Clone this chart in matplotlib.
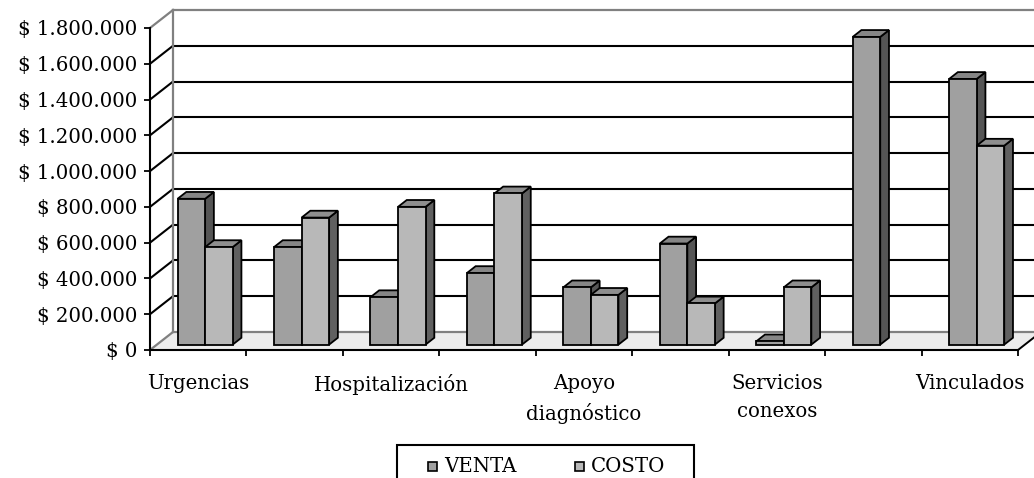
import matplotlib
matplotlib.use("Agg")
import matplotlib.pyplot as plt
from matplotlib.patches import Polygon, Rectangle

plt.rcParams["font.family"] = ["DejaVu Serif"]

# categories (only every other one gets a visible label)
categories = ["Urgencias", "", "Hospitalización", "", "Apoyo\ndiagnóstico",
              "", "Servicios\nconexos", "", "Vinculados"]
venta = [815000, 545000, 265000, 400000, 320000, 565000, 18000, 1720000, 1485000]
costo = [545000, 710000, 770000, 845000, 278000, 230000, 320000, 0, 1112000]
series = ["VENTA", "COSTO"]
yticks = list(range(0, 1800001, 200000))

# shading for front / top / side faces
faces = {
    "VENTA": ("#a0a0a0", "#868686", "#555555"),
    "COSTO": ("#b8b8b8", "#8e8e8e", "#606060"),
}
FS = 14.2

W, H = 1034, 478
fig = plt.figure(figsize=(W / 100, H / 100), dpi=100)
ax = fig.add_axes([150 / W, (H - 350) / H, 868 / W, 322 / H])
ncat = len(categories)
ymax = 1800000
ax.set_xlim(0, ncat)
ax.set_ylim(0, ymax)
ax.set_facecolor("none")

# oblique depth offset (23 px right, 18 px up) in data units
DX = 23 / 868 * ncat
DY = 18 / 322 * ymax
GRAY = "#808080"

# floor
ax.add_patch(Polygon([(0, 0), (ncat, 0), (ncat + DX, DY), (DX, DY)],
                     closed=True, fc="#ececec", ec="none", zorder=0.5,
                     clip_on=False))
ax.plot([DX, ncat + DX], [DY, DY], color=GRAY, lw=1.6, zorder=0.6,
        clip_on=False)
ax.plot([0, DX], [0, DY], color=GRAY, lw=1.6, zorder=0.6, clip_on=False)
ax.plot([ncat, ncat + DX], [0, DY], color="black", lw=1.4, zorder=0.6,
        clip_on=False)

# back wall + left wall gridlines
for v in yticks[1:-1]:
    ax.plot([DX, ncat + DX], [v + DY, v + DY], color="black", lw=1.5,
            zorder=0.6, clip_on=False)
    ax.plot([0, DX], [v, v + DY], color="black", lw=1.5, zorder=0.6,
            clip_on=False)
ax.plot([DX, ncat + DX], [ymax + DY, ymax + DY], color=GRAY, lw=1.6,
        zorder=0.6, clip_on=False)
ax.plot([0, DX], [ymax, ymax + DY], color=GRAY, lw=1.6, zorder=0.6,
        clip_on=False)
ax.plot([DX, DX], [DY, ymax + DY], color=GRAY, lw=1.6, zorder=0.6,
        clip_on=False)

# 3D bars: gap width 150%, depth 40% centred on the floor
bw = 1 / (len(series) + 1.5)
d0, d1 = 0.3, 0.68
z = 3
for i in range(ncat):
    for k, (name, vals) in enumerate(zip(series, [venta, costo])):
        v = vals[i]
        if v <= 0:
            continue
        front_c, top_c, side_c = faces[name]
        x0 = i + 0.75 * bw + k * bw
        x1 = x0 + bw
        ox0, oy0 = d0 * DX, d0 * DY
        ox1, oy1 = d1 * DX, d1 * DY
        front = [(x0 + ox0, oy0), (x1 + ox0, oy0), (x1 + ox0, v + oy0),
                 (x0 + ox0, v + oy0)]
        top = [(x0 + ox0, v + oy0), (x1 + ox0, v + oy0), (x1 + ox1, v + oy1),
               (x0 + ox1, v + oy1)]
        side = [(x1 + ox0, oy0), (x1 + ox1, oy1), (x1 + ox1, v + oy1),
                (x1 + ox0, v + oy0)]
        for pts, c in ((side, side_c), (top, top_c), (front, front_c)):
            ax.add_patch(Polygon(pts, closed=True, fc=c, ec="black", lw=1.3,
                                 joinstyle="miter", zorder=z, clip_on=False))
            z += 0.01

# axes: front y axis and floor edge
for s in ("top", "right"):
    ax.spines[s].set_visible(False)
for s in ("left", "bottom"):
    ax.spines[s].set_color("black")
    ax.spines[s].set_linewidth(1.5)
    ax.spines[s].set_zorder(2)

ax.set_yticks(yticks)
ax.set_yticklabels([f"$ {v:,.0f}".replace(",", ".") for v in yticks])
ax.tick_params(axis="y", direction="out", length=4, width=1.3, pad=5,
               labelsize=FS, colors="black")

ax.set_xticks(range(ncat + 1))
ax.set_xticklabels([])
ax.tick_params(axis="x", which="major", direction="out", length=4, width=1.3)
ax.set_xticks([i + 0.5 for i in range(ncat)], categories, minor=True)
ax.tick_params(axis="x", which="minor", length=0, pad=17, labelsize=FS)
for lbl in ax.get_xticklabels(minor=True):
    lbl.set_linespacing(1.6)

# legend box (runs off the bottom edge)
tf = fig.transFigure
fig.patches.append(Rectangle((397 / W, -0.05), 297 / W, (H - 445) / H + 0.05,
                             transform=tf, fc="white", ec="black", lw=1.5))
for name, mx, tx in (("VENTA", 428, 444), ("COSTO", 575, 591)):
    fig.patches.append(Rectangle((mx / W, (H - 471) / H), 9 / W, 9 / H,
                                 transform=tf, fc=faces[name][0], ec="black",
                                 lw=1.2))
    fig.text(tx / W, (H - 467) / H, name, fontsize=FS, ha="left",
             va="center")

fig.savefig("out.png", dpi=100)
